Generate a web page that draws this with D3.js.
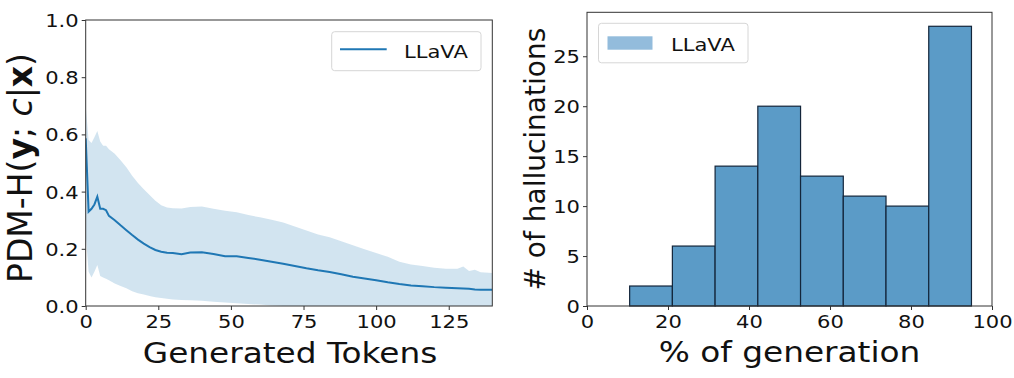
<!DOCTYPE html>
<html><head><meta charset="utf-8">
<script src="https://cdn.jsdelivr.net/npm/d3@7/dist/d3.min.js"></script>
<style>
html,body{margin:0;padding:0;background:#fff;}
svg text{font-family:"DejaVu Sans",sans-serif;fill:#111;}
</style></head>
<body>
<svg id="c" width="1014" height="378"></svg>
<script>
// ---------- data: left panel ----------
const tokens = [0,1,2,3,4,5,6,7,8,10,12,14,16,18,20,22,24,26,28,30,33,36,40,44,48,52,56,60,64,68,72,76,80,84,88,92,96,100,104,108,112,116,120,124,128,130,132,134,136,140];
const meanVals = [0.586,0.33,0.34,0.355,0.382,0.34,0.34,0.335,0.315,0.30,0.282,0.265,0.248,0.232,0.218,0.206,0.196,0.19,0.186,0.185,0.181,0.187,0.188,0.182,0.174,0.174,0.168,0.162,0.155,0.148,0.140,0.132,0.125,0.119,0.111,0.102,0.096,0.090,0.083,0.077,0.072,0.069,0.066,0.064,0.062,0.061,0.060,0.058,0.057,0.057];
const upperVals = [0.70,0.58,0.57,0.59,0.612,0.575,0.56,0.56,0.548,0.532,0.51,0.485,0.455,0.43,0.408,0.388,0.368,0.352,0.344,0.342,0.341,0.346,0.348,0.34,0.333,0.328,0.318,0.31,0.302,0.292,0.278,0.264,0.25,0.24,0.226,0.212,0.198,0.185,0.172,0.155,0.145,0.14,0.134,0.13,0.13,0.138,0.122,0.127,0.118,0.115];
const lowerVals = [0.25,0.12,0.10,0.12,0.143,0.105,0.10,0.095,0.09,0.079,0.07,0.062,0.052,0.045,0.04,0.035,0.031,0.028,0.025,0.023,0.021,0.02,0.018,0.015,0.012,0.01,0.007,0.005,0.002,0.0,-0.004,-0.01,-0.015,-0.02,-0.025,-0.03,-0.035,-0.04,-0.045,-0.05,-0.05,-0.05,-0.05,-0.05,-0.05,-0.05,-0.05,-0.05,-0.05,-0.05];
const leftXTicks = [0,25,50,75,100,125];
const leftYTicks = [0.0,0.2,0.4,0.6,0.8,1.0];
const seriesName = "LLaVA";

// ---------- data: right panel ----------
const binEdges = [10.53,21.08,31.63,42.18,52.73,63.28,73.83,84.38,94.93];
const counts = [2,6,14,20,13,11,10,28];
const rightXTicks = [0,20,40,60,80,100];
const rightYTicks = [0,5,10,15,20,25];

const SX = 1.17; // horizontal stretch of the reference image
const svg = d3.select("#c");
const BLUE = "#1f77b4";

function stretchText(sel){ sel.attr("transform", `scale(${SX},1)`); }

// ================= LEFT PANEL =================
const L = {x0:85.7, x1:492.3, y0:20, y1:306};
const xL = d3.scaleLinear().domain([0,140]).range([L.x0, L.x1]);
const yL = d3.scaleLinear().domain([0,1]).range([L.y1, L.y0]);

svg.append("clipPath").attr("id","clipL").append("rect")
  .attr("x",L.x0).attr("y",L.y0).attr("width",L.x1-L.x0).attr("height",L.y1-L.y0);

const gL = svg.append("g");
const pts = tokens.map((t,i)=>({t, m:meanVals[i], u:upperVals[i], l:lowerVals[i]}));
gL.append("path").attr("clip-path","url(#clipL)")
  .attr("d", d3.area().x(d=>xL(d.t)).y0(d=>yL(d.l)).y1(d=>yL(d.u))(pts))
  .attr("fill", BLUE).attr("fill-opacity", 0.2);
gL.append("path").attr("clip-path","url(#clipL)")
  .attr("d", d3.line().x(d=>xL(d.t)).y(d=>yL(d.m))(pts))
  .attr("fill","none").attr("stroke", BLUE).attr("stroke-width", 2);

// axes
const axLB = svg.append("g").attr("transform",`translate(0,${L.y1})`)
  .call(d3.axisBottom(xL).tickValues(leftXTicks).tickSize(4).tickSizeOuter(0));
const axLL = svg.append("g").attr("transform",`translate(${L.x0},0)`)
  .call(d3.axisLeft(yL).tickValues(leftYTicks).tickFormat(d3.format(".1f")).tickSize(4).tickSizeOuter(0));

function styleAxes(){
  svg.selectAll(".domain").remove();
  svg.selectAll(".tick line").attr("stroke","#333").attr("stroke-width",1);
  svg.selectAll(".tick text").attr("font-size",18).attr("fill","#111").style("font-family","DejaVu Sans");
}
axLB.selectAll(".tick text").attr("y",22.5).attr("dy",0);
axLL.selectAll(".tick text").attr("x",-6).attr("dy","0.36em");

svg.append("rect").attr("x",L.x0).attr("y",L.y0).attr("width",L.x1-L.x0).attr("height",L.y1-L.y0)
  .attr("fill","none").attr("stroke","#333").attr("stroke-width",1);

// legend left
svg.append("rect").attr("x",331.7).attr("y",31.7).attr("width",149.3).attr("height",39)
  .attr("rx",3).attr("fill","#fff").attr("fill-opacity",0.8).attr("stroke","#d6d6d6").attr("stroke-width",1);
svg.append("line").attr("x1",340).attr("x2",386.7).attr("y1",49.3).attr("y2",49.3)
  .attr("stroke",BLUE).attr("stroke-width",2);
svg.append("g").attr("transform","translate(404,58)").append("text")
  .attr("font-size",18).text(seriesName).call(stretchText);

// axis labels left
svg.append("g").attr("transform",`translate(${(L.x0+L.x1)/2+1},363)`).append("text")
  .attr("font-size",28).attr("text-anchor","middle").text("Generated Tokens").call(stretchText);
const yl = svg.append("g").attr("transform",`translate(31.7,283) rotate(-90)`)
  .append("text").attr("font-size",33).attr("text-anchor","start");
yl.append("tspan").text("PDM-H(");
yl.append("tspan").attr("font-weight","bold").text("y");
yl.append("tspan").text("; ");
yl.append("tspan").attr("font-style","italic").text("c");
yl.append("tspan").text("|");
yl.append("tspan").attr("font-weight","bold").text("x");
yl.append("tspan").text(")");

// ================= RIGHT PANEL =================
const R = {x0:587, x1:992, y0:12.3, y1:306};
const xR = d3.scaleLinear().domain([0,100]).range([R.x0, R.x1]);
const yR = d3.scaleLinear().domain([0, d3.max(counts)*1.05]).range([R.y1, R.y0]);

svg.append("g").selectAll("rect").data(counts).join("rect")
  .attr("x",(d,i)=>xR(binEdges[i]))
  .attr("width",(d,i)=>xR(binEdges[i+1])-xR(binEdges[i]))
  .attr("y",d=>yR(d)).attr("height",d=>yR(0)-yR(d))
  .attr("fill","#5b9bc7").attr("stroke","#13253a").attr("stroke-width",1.2);

const axRB = svg.append("g").attr("transform",`translate(0,${R.y1})`)
  .call(d3.axisBottom(xR).tickValues(rightXTicks).tickSize(4).tickSizeOuter(0));
const axRL = svg.append("g").attr("transform",`translate(${R.x0},0)`)
  .call(d3.axisLeft(yR).tickValues(rightYTicks).tickSize(4).tickSizeOuter(0));
axRB.selectAll(".tick text").attr("y",22.5).attr("dy",0);
axRL.selectAll(".tick text").attr("x",-6).attr("dy","0.36em");

svg.append("rect").attr("x",R.x0).attr("y",R.y0).attr("width",R.x1-R.x0).attr("height",R.y1-R.y0)
  .attr("fill","none").attr("stroke","#333").attr("stroke-width",1);

styleAxes();
svg.selectAll(".tick text").call(stretchText);

// legend right
svg.append("rect").attr("x",598.5).attr("y",23.3).attr("width",149.5).attr("height",39.5)
  .attr("rx",3).attr("fill","#fff").attr("fill-opacity",0.8).attr("stroke","#d6d6d6").attr("stroke-width",1);
svg.append("rect").attr("x",607.5).attr("y",36.3).attr("width",45).attr("height",13.4)
  .attr("fill","#93bcdc");
svg.append("g").attr("transform","translate(671,51)").append("text")
  .attr("font-size",18).text(seriesName).call(stretchText);

// axis labels right
svg.append("g").attr("transform",`translate(${(R.x0+R.x1)/2},362)`).append("text")
  .attr("font-size",28).attr("text-anchor","middle").text("% of generation").call(stretchText);
svg.append("g").attr("transform",`translate(545,${(R.y0+R.y1)/2}) rotate(-90)`)
  .append("text").attr("font-size",28).attr("text-anchor","middle").text("# of hallucinations");
</script>
</body></html>
